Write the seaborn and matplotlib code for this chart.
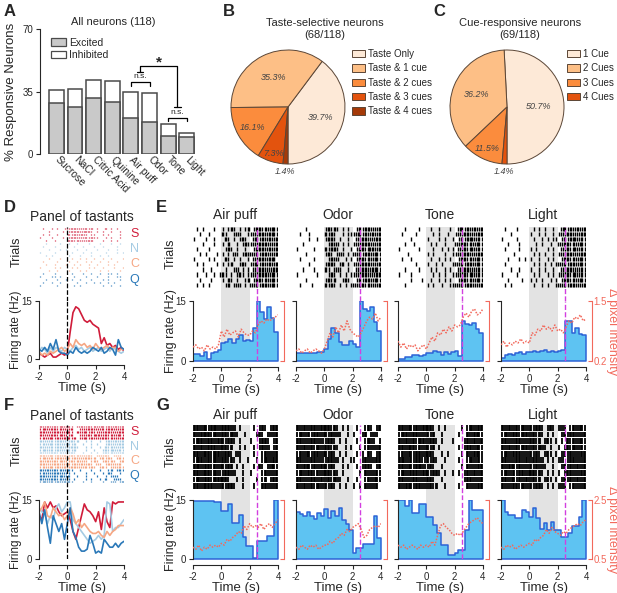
import numpy as np
import pandas as pd
import matplotlib
matplotlib.use('Agg')
import matplotlib.pyplot as plt
import seaborn as sns
from matplotlib.patches import Patch

# ---------------- Panel A: % responsive neurons ----------------
stimuli = ['Sucrose', 'NaCl', 'Citric Acid', 'Quinine', 'Air puff', 'Odor', 'Tone', 'Light']
pct_total = [35.6, 36.3, 41.5, 40.7, 35.0, 34.1, 16.9, 12.0]
pct_excited = [28.8, 26.6, 31.6, 29.0, 20.3, 17.8, 10.2, 9.7]

# ---------------- Panels B, C: pies ----------------
taste_sel_labels = ['Taste Only', 'Taste & 1 cue', 'Taste & 2 cues', 'Taste & 3 cues', 'Taste & 4 cues']
taste_sel_pct = [39.7, 35.3, 16.1, 7.3, 1.4]
cue_resp_labels = ['1 Cue', '2 Cues', '3 Cues', '4 Cues']
cue_resp_pct = [50.7, 36.2, 11.5, 1.4]

# ---------------- Panels D, F: tastant PSTHs (t = -2..4, step 0.2) ----------------
tastants = ['S', 'N', 'C', 'Q']
D_rate_S = [1.5, 1, 0.5, 1, 1.5, 0.5, 0.5, 1, 1.5, 1, 1.5, 7, 12, 13.5, 13, 11.5, 10, 9.5, 10, 9, 8.5, 8, 4, 5.5, 3.5, 4, 3, 3.5, 2.5, 3, 2]
D_rate_N = [2, 3, 2.5, 1.5, 3, 2, 3, 2.5, 2, 3, 2.5, 2, 3, 3.5, 2.5, 3, 2, 2.5, 3, 2, 2.5, 3, 2, 2.5, 3, 2, 3, 2.5, 2, 1.5, 2]
D_rate_C = [2, 1, 1.5, 1, 2, 1.5, 2, 2.5, 3, 2, 2.5, 4, 3, 5, 4, 3.5, 4, 3, 3.5, 2.5, 4, 3, 2.5, 3, 3.5, 2.5, 3, 3, 2, 2.5, 2.5]
D_rate_Q = [2.5, 2, 3, 2, 4, 2.5, 5, 2, 1.5, 1.5, 1, 2, 1.5, 3, 2, 1.5, 2, 1.5, 2, 3, 2.5, 2, 3, 1.5, 2, 3, 2.5, 1, 5, 3, 2.5]
F_rate_S = [11, 10, 14.5, 13, 14.5, 13, 13.5, 12, 11, 11.5, 12, 10, 7, 5, 8, 11, 14, 12.5, 12, 11, 9.5, 12, 7.5, 13, 9.5, 8, 14.5, 14, 14.5, 14.5, 14.5]
F_rate_N = [13, 12, 11.5, 9, 11, 10, 13, 14, 12, 13, 14.5, 14.5, 10, 9, 8, 7, 6, 5, 4, 4.5, 5, 6, 5, 6, 14.5, 14, 7, 8, 8, 9, 10]
F_rate_C = [12, 13, 14.5, 11, 10.5, 13, 12, 11, 11.5, 10, 11, 13, 11.5, 9, 10, 8, 9, 8, 7, 6.5, 6.5, 7, 6, 5.5, 7, 6, 7, 7.5, 8.5, 8.5, 8.5]
F_rate_Q = [12, 9, 12.5, 8, 4, 11, 9, 7, 9, 5, 9, 13, 7, 5.5, 3, 2, 2, 2.5, 6, 4, 1.5, 2, 1.5, 5, 4, 3, 3, 4, 3, 4, 4.5]

# raster rows: 30 bins of 0.2 s from -2 to 4; '|' one spike, ':' two spikes
D_raster_S = [".|..|.|.. :|::|:|:|: .|..:.|.|.", "...|....|. |:::|:::|. |.|..|..|.", ".|.|..|... :|:|::|.|| ..|.|...|.",
              "|...|...|. |::|:|:|:| |..|.|..|.", "..|..|.... ::|:|:|::. ..|..|.|.."]
D_raster_N = ["..|....|.. |..|...|.. .|...|..|.", ".|...|.... ..|..|...| ..|....|..", "...|...|.| ...|..|... |...|..|..",
              "|....|.... .|...|..|. ...|...|.|", "..|.|..... |...|...|. .|..|....."]
D_raster_C = ["...|...|.. .|..|.|..| ..|..|...|", ".|....|... |..|..|.|. .|..|..|..", "..|..|...| ..|.|..|.. |...|.|...",
              "|....|.|.. .|.|...|.| ..|...|..|", "...|..|... |...|.|... .|..|...|."]
D_raster_Q = [".|...|.... .|...|..|. .|..||.|..", "|...||.|.. ..|...|... |...|..||.", "..|...|..| .|..|...|. ..|.|...|.",
              ".|..|..|.. ...|..|..| .|..|.|...", "|.....|... ..|.|..... ..|..|..|."]
F_raster_S = [":|::|:|::| :|.|::|:|: |::|:|::|:", "|::|::|:|: |:..|:|::| :|:|::|:|:", "::|:|::|:| :|.:|::|:| |:|::|:|::",
              ":|:|::|::| |:..|:|:|: ::|:|:|::|", "|:|::|:|:: :|:.|::|:| :|::|:|:|:"]
F_raster_N = [":|:|:|::|: |:|:..|.|. .|.|:|::|:", "|:|::|:|:| :|:..|..|. |..|:|:|::", ":|:|:|::|: |::|..|.|. .|.:|:|:|:",
              "|::|:|:|:| :|:...|..| ..|:|::|:|", ":|:|::|:|: |:|..|..|. |.|:|:|:|:"]
F_raster_C = ["::|::|:|:: |:|:|:|:|. |:|:|.|:|.", "|::|:|::|: :|:|:|::|: .|:|:|.|:|", ":|::|:|::| |:|:|:|.|: |.|:|:|.|:",
              "::|:|::|:| :|:|::|:|. :|.|:|:|:.", "|:|::|:|:: |::|:|:|:| .|:|.|:|:|"]
F_raster_Q = [":|::|:|:|: :|..|...|. .|..|:.|:|", "|:|:|::|:| |.|...|..| ..|.:|..|.", "::|:|:|::| :..|..|... |..|.|:|..",
              ":|:|::|:|: |.|...|.|. .|.:..|:|.", "|::|:|:|:: :|...|..|. ..|..|:.|:"]

# ---------------- Panels E, G: cue responses ----------------
cues = ['Air puff', 'Odor', 'Tone', 'Light']
# firing rate, 24 bins of 0.25 s from -2 to 4
E_rate_air = [1.8, 1.8, 1.3, 2.3, 0.6, 2.0, 2.3, 2.7, 4.4, 4.8, 5.5, 4.6, 5.6, 6.5, 5.0, 5.3, 5.0, 8.2, 15, 12.3, 10.5, 13.5, 10.8, 7.3]
E_rate_odor = [2.1, 2.1, 2.1, 2.1, 2.1, 2.1, 2.3, 2.3, 3.0, 5.5, 8.2, 7.0, 4.7, 4.0, 4.0, 5.0, 4.2, 3.5, 15, 13, 12.5, 13.5, 9.7, 7.5]
E_rate_tone = [0.6, 0.6, 1.0, 1.0, 1.6, 1.5, 1.3, 1.6, 2.0, 2.1, 2.6, 2.3, 1.5, 2.3, 1.8, 2.3, 2.5, 1.3, 10, 9.2, 9.0, 9.5, 8.0, 7.0]
E_rate_light = [0.7, 1.5, 1.8, 1.6, 2.0, 2.2, 1.8, 2.2, 2.3, 2.6, 2.2, 2.5, 2.7, 2.3, 2.5, 2.2, 2.4, 2.8, 10, 10, 7, 8.3, 6.8, 6.5]
G_rate_air = [14.8, 14.8, 14.8, 14.8, 14.8, 14.8, 14.5, 14.5, 12.2, 12.2, 13.9, 9.1, 9.1, 11.2, 5.6, 3.2, 3.2, 0.3, 4.5, 4.5, 4.5, 5.9, 5.9, 15]
G_rate_odor = [12.0, 11.5, 11.0, 12.0, 11.0, 10.2, 11.8, 11.0, 12.8, 10.5, 12.2, 11.0, 13.0, 10.0, 9.0, 7.5, 1.5, 2.8, 2.8, 3.8, 3.8, 3.8, 10.9, 5.3]
G_rate_tone = [15, 15, 13.5, 15, 11.6, 11.6, 13.9, 13.9, 10.8, 10.8, 8.7, 6.6, 3.6, 3.6, 1.1, 1.1, 1.5, 2.4, 2.4, 7.4, 15, 12.4, 12.4, 12.4]
G_rate_light = [15, 12.0, 11.2, 11.2, 10.3, 10.3, 12.5, 12.0, 10.8, 12.9, 10.3, 7.6, 9.1, 7.4, 9.5, 7.4, 7.4, 5.7, 5.7, 6.6, 8.4, 8.4, 10.8, 15]

# delta pixel intensity (t = -2..4, step 0.2)
E_pix_air = [0.50, 0.55, 0.46, 0.50, 0.42, 0.55, 0.46, 0.50, 0.46, 0.55, 0.85, 0.72, 0.89, 0.76, 0.81, 0.85, 0.72, 0.89, 0.81, 0.76, 0.76, 0.85, 0.81, 0.98, 1.07, 1.02, 1.11, 1.07, 1.11, 1.15, 1.20]
E_pix_odor = [0.42, 0.46, 0.37, 0.42, 0.46, 0.37, 0.42, 0.46, 0.42, 0.37, 0.46, 0.63, 0.81, 0.72, 0.94, 0.81, 0.98, 0.85, 1.07, 0.89, 0.81, 0.76, 0.72, 0.81, 0.94, 1.07, 1.15, 1.11, 1.24, 1.07, 1.15]
E_pix_tone = [0.63, 0.50, 0.59, 0.46, 0.55, 0.50, 0.55, 0.42, 0.50, 0.55, 0.46, 0.59, 0.72, 0.63, 0.81, 0.76, 0.89, 0.81, 0.94, 0.85, 0.98, 0.94, 0.98, 1.15, 1.24, 1.15, 1.28, 1.33, 1.20, 1.24, 1.33]
E_pix_light = [0.55, 0.63, 0.50, 0.59, 0.55, 0.63, 0.59, 0.68, 0.59, 0.63, 0.59, 0.81, 0.76, 0.89, 0.85, 0.98, 0.89, 0.94, 0.85, 0.98, 0.85, 0.89, 0.81, 0.94, 1.07, 1.02, 1.15, 1.11, 1.20, 1.07, 1.11]
G_pix_air = [0.90, 0.83, 0.97, 0.77, 0.90, 0.83, 0.97, 0.90, 0.97, 0.90, 1.03, 0.97, 1.17, 1.10, 1.23, 1.30, 1.43, 1.37, 1.63, 1.50, 1.70, 1.57, 1.63, 1.57, 1.70, 1.50, 1.63, 1.70, 1.57, 1.70, 1.83]
G_pix_odor = [0.90, 0.83, 0.97, 0.90, 0.83, 0.97, 0.90, 0.97, 0.83, 0.90, 0.97, 0.97, 1.10, 1.03, 1.17, 1.23, 1.37, 1.30, 1.50, 1.43, 1.57, 1.63, 1.70, 1.50, 1.23, 1.30, 1.50, 1.57, 1.63, 1.57, 1.70]
G_pix_tone = [0.97, 0.90, 0.97, 0.83, 0.90, 0.97, 0.90, 0.83, 0.97, 0.90, 0.97, 0.90, 1.10, 0.97, 1.30, 1.63, 1.70, 1.57, 1.50, 1.37, 1.30, 1.37, 1.30, 1.43, 1.57, 1.70, 1.77, 1.83, 1.90, 1.77, 1.70]
G_pix_light = [0.90, 0.83, 0.97, 0.90, 0.97, 0.83, 0.90, 0.97, 0.90, 0.97, 1.03, 0.97, 1.17, 1.10, 1.23, 1.30, 1.50, 1.37, 1.57, 1.43, 1.37, 1.30, 1.43, 1.37, 1.50, 1.57, 1.63, 1.70, 1.63, 1.77, 1.83]

E_raster_air = [".|.|...|.. |.|:|.|.|: .|::|:|::|", "..|..|.... :|..|:|..| |:|::|:::|", "|...|..|.. .:|.|.|:|. .::|:|::|:",
                "...|...|.. |.:..|.|:| |:|:::|:|:", ".|...|.... .|:|.|..|. .|:::|::|:", "..|.|...|. |.|.:|.|:| :|:|::|:|:",
                "|....|.|.. .:|.|.|..| .:|::|:::.", ".|.|....|. |.|:..|:|. |::|:|::|:", "...|..|... .|..|:.|.| .:|::|:|::",
                ".|..|..|.| :|.|.|:|.| |:|:::|::|", "..|...|... |.:|.|..|: .|::|:|::|", ".|.|.|.... .|:.|:|.|. :|:|::|::|"]
E_raster_odor = ["...|...... |:|:|.|.|. .|:|::|:|:", ".|..|..... :|:|..|.|| |::|:|::|:", "....|..|.. |::|.|..|. .:|::|:|::",
                 "..|....... .|:|:.|.|. |:|:::|:|:", "|.....|... :|::|.|..| .|::|:::|:", "...|...... |:|.|:|.|. :|:|::|::|",
                 ".|....|... .|:|:..|.| .|::|:|::|", "....|..... |::|.|:.|. |:|:::|:|:", "..|...|... :|.|:|..|. .:|::|:::|",
                 "|......|.. .|:|.|.|.| |:|::|:|::", "...|...... |:|:..|:|. .|:|::|::|", ".|...|.... :|:|.|.|.| :|::|:|:|:"]
E_raster_tone = ["..|....|.. .|..|...|. .::|:|::|:", ".|....|... ..|.|..|.. |:|::|:|::", "....|..... |...|.|..| .|:|:::|:|",
                 "..|..|.... .|.|..|... :|::|:|::|", "|......|.. ..|..|.|.| .:|:|::|:|", "...|...... |.|...|..| |:|::|:|::",
                 ".|..|..... .|..|.|.|. .|::|:|::|", "......|... |..|.|...| :|:|::|::|", "..|....|.. .|.|..|.|. .:|::|:|:|",
                 "|...|..... ..|.|.|..| |:|:|::|:|", "....|...|. .|..|.|.|. .|::|:|::|", "..|....... |.|..|..|| :|:|::|:|:"]
E_raster_light = [".|...|.... .|.|.|..|. .::|:|::|:", "...|...... |..|.|..|. |:|::|:|::", "|....|.... .|..|.|.|| .|:|:::|:|",
                  "..|...|... ..|.|..|.. :|::|:|::|", ".|....|... |.|...|.|. .:|:|::|:|", "....|..... .|.|.|..|. |:|::|:|::",
                  "..|...|.|. |..|..|.|. .|::|:|::|", ".|........ .|.|.|.|.| :|:|::|::|", "...|..|... |..|.|..|. .:|::|:|:|",
                  "|....|.... .|.|..|.|. |:|:|::|:|", "..|....|.. |.|.|..|.| .|::|:|::|", ".|.|...... .|..|.|..| :|:|::|:|:"]
G_raster_air = ["::|::|:::| :::|:.|... .|.|:|.|::", ":|::::|::| ::|::|..|. ..|:|.|:|:", "|:::|::|:: :|::|.|... |..|::|.|:",
                ":|::|:::|: ::|:..|.|. .|.|:|:.|:", "::|:::|::: |::|.:|... .|..|:|:|:", "|:::|:|::| ::|:|.|..| ..|.|::|::",
                ":::|::|:|: :|::.|.|.. .|.:|.|::|", "::|:::|::| |::|:..|.. |...|:|:|:", "|::|::|::: ::|..|.|.. ..|.|:.|::",
                "::|::::|:| :|::|..|.. .|..::|:|:"]
G_raster_odor = [":|::|::|:: ::|:|.|.|. .|..|:|.|:", "|::|:|::|: :|:|:|..|. |..|:.|:|.", "::|:|::|:| |::|.|.|.. .|..|::|.|",
                 ":|::|:|::| ::|:|..|.| ..|.|:|:|:", "|:|::|::|: :|:|.|.|.. .|.|.:|.|:", "::|:|::|:| |::|:.|..| |..|:|:|::",
                 ":|:::|:|:: :|:|..|.|. .|.|::|.|:", "|::|::|:|: ::|:|.|... ..|.:|:|:|", "::|:|::|:: |:|::|..|. .|..|:|::|",
                 ":|::|:|::| :|:|.|.|.. |.|.:|:|:."]
G_raster_tone = ["::|::|:|:: ::|.|.|... ..|.|::|::", "|:::|::|:| :|:..|.... .|..:|:::|", ":|::|:|::: |::|.|...| ...|:|::|:",
                 "::|:::|:|: :|:.|..... .|.|::|::|", "|:|::|::|: ::|..|.|.. ..|.:|:::|", ":::|:|::|| :|:|..|... .|..|::|:|",
                 "::|::|:::| |:|..|.... ..|.:|:|::", "|::|:::|:: :|::|.|..| .|.|:|::|:", "::|:|::|:| ::|..|.... ...|::|:|:",
                 ":|:::|::|: |:|:..|... .|..:|:|::"]
G_raster_light = [":|::|:|::| :|::|.|:|. |:|.|:|::|", "|::|::|::: |:|:|.|.|. .|:|::|:|:", "::|:|::|:| ::|:.|:|.| .|.:|:|::|",
                  ":|::|:|::: |:|::|.|.. |.|:|::|:|", "|::|:::|:| :|:|.|:|.| .|:|:|:|::", "::|:|::|:: |::|:.|.|. |:.|::|:|:",
                  ":|:::|:|:| :|:|:|..|. .|:|:|::|:", "|::|:|::|: ::|:|.|.|. |.|::|:|::", "::|::|:|:: |:|:.|:|.| .|:|:|::|:",
                  ":|:|::|::| :|::|.|.|. |:|.|:|:|:"]

bin_mid = np.arange(-2, 4, 0.25) + 0.125
t_trace = np.round(np.arange(-2, 4.001, 0.2), 2)

# ---------------- style ----------------
sns.set_style('ticks')
plt.rcParams['font.family'] = ['Liberation Sans', 'DejaVu Sans']
plt.rcParams.update({
    'axes.unicode_minus': False, 'axes.linewidth': 0.8,
    'xtick.labelsize': 7, 'ytick.labelsize': 7, 'axes.labelsize': 9,
    'xtick.major.size': 3, 'ytick.major.size': 3,
    'xtick.major.width': 0.8, 'ytick.major.width': 0.8,
    'xtick.major.pad': 2, 'ytick.major.pad': 2,
})

TASTE_COLORS = ['#d01c3a', '#a5cbe3', '#f6a784', '#2a78b8']
PIE_COLORS = ['#fde9d7', '#fdbf86', '#fb8c3d', '#e3530e', '#a53a08']
PIE_EDGE = '#5b4636'
BLUE_FILL = '#5ec3f2'
BLUE_EDGE = '#2d63d6'
PIX_RED = '#f2695c'
MAGENTA = '#d23fe0'
SHADE = '#e3e3e3'

W, H = 617, 593
fig = plt.figure(figsize=(W / 100, H / 100), dpi=100)


def px_axes(x0, y0, x1, y1):
    return fig.add_axes([x0 / W, 1 - y1 / H, (x1 - x0) / W, (y1 - y0) / H])


def ftext(x, y, s, **kw):
    fig.text(x / W, 1 - y / H, s, **kw)


def spike_times(row):
    row = row.replace(' ', '')
    out = []
    for i, ch in enumerate(row):
        t0 = -2 + 0.2 * i
        if ch == '|':
            out.append(t0 + 0.1)
        elif ch == ':':
            out += [t0 + 0.05, t0 + 0.15]
    return out


def draw_raster(ax, groups, colors, n_rows, length, lw):
    pos, offs, cols = [], [], []
    k = 0
    for trials, c in zip(groups, colors):
        for tr in trials:
            pos.append(spike_times(tr))
            offs.append(k + 0.5)
            cols.append(c)
            k += 1
    ax.eventplot(pos, lineoffsets=offs, linelengths=length, colors=cols, linewidths=lw, zorder=2)
    ax.set_xlim(-2, 4)
    ax.set_ylim(n_rows, 0)
    ax.set_xticks([])
    ax.set_yticks([])
    for s in ax.spines.values():
        s.set_visible(False)
    ax.patch.set_alpha(0)


def style_rate_axis(ax, first, lab_x):
    ax.set_xlim(-2, 4)
    ax.set_ylim(0, 15)
    ax.set_xticks([-2, 0, 2, 4])
    ax.set_yticks([0, 15])
    sns.despine(ax=ax)
    ax.spines['bottom'].set_position(('outward', 4))
    ax.set_xlabel('Time (s)', fontsize=9.5, labelpad=0)
    if first:
        ax.set_ylabel('Firing rate (Hz)')
        ax.yaxis.set_label_coords(lab_x, 0.5)
    else:
        ax.set_ylabel('')
        ax.set_yticklabels([])


# ================= Panel A =================
axA = px_axes(40, 29, 197, 154)
dfA = pd.DataFrame({'stim': stimuli, 'total': pct_total, 'excited': pct_excited})
sns.barplot(data=dfA, x='stim', y='total', color='white', edgecolor='#4a4a4a', linewidth=1.1,
            width=0.8, saturation=1, ax=axA)
sns.barplot(data=dfA, x='stim', y='excited', color='#c9c9c9', edgecolor='#4a4a4a', linewidth=1.1,
            width=0.8, saturation=1, ax=axA)
axA.set_xlim(-0.88, 7.55)
axA.set_ylim(0, 70)
axA.set_yticks([0, 35, 70])
axA.set_xlabel('')
axA.set_ylabel('% Responsive Neurons', fontsize=9.5, labelpad=4)
sns.despine(ax=axA, bottom=True)
axA.tick_params(axis='x', length=0, pad=3)
axA.set_xticks(range(len(stimuli)))
axA.set_xticklabels(stimuli, rotation=-45, ha='left', va='center', rotation_mode='anchor', fontsize=7.5)
axA.legend(handles=[Patch(facecolor='#c9c9c9', edgecolor='#4a4a4a', lw=0.9),
                    Patch(facecolor='white', edgecolor='#4a4a4a', lw=0.9)],
           labels=['Excited', 'Inhibited'], loc='upper left', bbox_to_anchor=(0.07, 0.93),
           frameon=False, fontsize=7.5, handlelength=1.4, handleheight=0.7, handletextpad=0.3,
           labelspacing=0.2, borderpad=0, borderaxespad=0)
kw = dict(color='black', lw=0.9, clip_on=False)
axA.plot([4, 4, 5, 5], [38.3, 40.1, 40.1, 38.3], **kw)
axA.text(4.5, 41.2, 'n.s.', ha='center', va='bottom', fontsize=6)
axA.plot([6, 6, 7, 7], [18.3, 20.1, 20.1, 18.3], **kw)
axA.text(6.5, 21.2, 'n.s.', ha='center', va='bottom', fontsize=6)
axA.plot([4.5, 4.5, 6.5, 6.5], [46.2, 49.2, 49.2, 26.2], **kw)
axA.plot([4.35, 4.65], [46.2, 46.2], **kw)
axA.plot([6.3, 6.7], [26.2, 26.2], **kw)
axA.text(5.5, 51.5, '*', ha='center', va='center', fontsize=11, fontweight='bold')
ftext(113, 22, 'All neurons (118)', ha='center', va='center', fontsize=8)


# ================= Panels B, C =================
def draw_pie(ax, values, colors, dists):
    wedges, _ = ax.pie(values, colors=colors, startangle=-90, counterclock=True,
                       wedgeprops=dict(edgecolor=PIE_EDGE, linewidth=0.7))
    ax.set_xlim(-1.0, 1.0)
    ax.set_ylim(-1.0, 1.0)
    for w, v, d in zip(wedges, values, dists):
        ang = np.deg2rad((w.theta1 + w.theta2) / 2)
        ax.text(d * np.cos(ang), d * np.sin(ang), f'{v}%', ha='center', va='center',
                fontsize=6.5, style='italic', color='#444444')


axB = px_axes(231, 50, 345, 164)
draw_pie(axB, taste_sel_pct, PIE_COLORS, [0.6, 0.58, 0.72, 0.85, 1.13])
ftext(325, 29, 'Taste-selective neurons\n(68/118)', ha='center', va='center', fontsize=8, linespacing=1.15)
fig.legend(handles=[Patch(facecolor=c, edgecolor=PIE_EDGE, lw=0.7) for c in PIE_COLORS],
           labels=taste_sel_labels, loc='upper left', bbox_to_anchor=(352 / W, 1 - 49 / H),
           frameon=False, fontsize=7, handlelength=1.3, handleheight=0.8, handletextpad=0.35,
           labelspacing=0.45, borderpad=0, borderaxespad=0)

axC = px_axes(450, 50, 564, 164)
draw_pie(axC, cue_resp_pct, PIE_COLORS[:4], [0.55, 0.58, 0.8, 1.13])
ftext(520, 29, 'Cue-responsive neurons\n(69/118)', ha='center', va='center', fontsize=8, linespacing=1.15)
fig.legend(handles=[Patch(facecolor=c, edgecolor=PIE_EDGE, lw=0.7) for c in PIE_COLORS[:4]],
           labels=cue_resp_labels, loc='upper left', bbox_to_anchor=(567 / W, 1 - 49 / H),
           frameon=False, fontsize=7, handlelength=1.3, handleheight=0.8, handletextpad=0.35,
           labelspacing=0.45, borderpad=0, borderaxespad=0)


# ================= Panels D, F =================
def tastant_panel(y_top, y_mid, y_bot, rasters, rates, n_rows, title, title_y):
    axr = px_axes(39, y_top, 124, y_mid)
    draw_raster(axr, rasters, TASTE_COLORS, n_rows, 0.6, 0.9)
    axr.axvline(0, color='black', ls='--', lw=0.9, zorder=3)
    axr.set_ylabel('Trials')
    axr.yaxis.set_label_coords(-0.19, 0.66)
    for i, (name, c) in enumerate(zip(tastants, TASTE_COLORS)):
        axr.text(4.75, 5 * i + 2.5, name, color=c, fontsize=9, ha='center', va='center', clip_on=False)
    axl = px_axes(39, y_mid, 124, y_bot)
    for vals, c in zip(rates, TASTE_COLORS):
        sns.lineplot(x=t_trace, y=vals, color=c, lw=1.2, ax=axl)
    axl.axvline(0, color='black', ls='--', lw=0.9, zorder=3)
    style_rate_axis(axl, True, -0.2)
    axl.yaxis.label.set_fontsize(8.5)
    ftext(82, title_y, title, ha='center', va='center', fontsize=10)


tastant_panel(227, 301, 359, [D_raster_S, D_raster_N, D_raster_C, D_raster_Q],
              [D_rate_S, D_rate_N, D_rate_C, D_rate_Q], 74 / 3, 'Panel of tastants', 217)
tastant_panel(425, 500, 559, [F_raster_S, F_raster_N, F_raster_C, F_raster_Q],
              [F_rate_S, F_rate_N, F_rate_C, F_rate_Q], 75 / 2.9, 'Panel of tastants', 416)


# ================= Panels E, G =================
def cue_panel(y_top, y_mid, y_bot, rasters, rates, pix, n_rows, length, lw, pix_lim, title_y):
    for k, x0 in enumerate([193, 296, 398, 501]):
        x1 = x0 + 85
        axr = px_axes(x0, y_top, x1, y_mid)
        axr.axvspan(0, 2, color=SHADE, lw=0, zorder=0)
        draw_raster(axr, [rasters[k]], ['black'], n_rows, length, lw)
        axr.axvline(2.5, color=MAGENTA, ls='--', lw=1, zorder=3)
        if k == 0:
            axr.set_ylabel('Trials')
            axr.yaxis.set_label_coords(-0.19, 0.64)
        axh = px_axes(x0, y_mid, x1, y_bot)
        axh.axvspan(0, 2, color=SHADE, lw=0, zorder=0)
        hist_df = pd.DataFrame({'t': bin_mid, 'rate': rates[k]})
        sns.histplot(data=hist_df, x='t', weights='rate', binwidth=0.25, binrange=(-2, 4),
                     element='step', fill=True, color=BLUE_FILL, edgecolor=BLUE_EDGE,
                     linewidth=1.1, alpha=1, ax=axh)
        axh.axvline(2.5, color=MAGENTA, ls='--', lw=1, zorder=4)
        style_rate_axis(axh, k == 0, -0.19)
        ax2 = axh.twinx()
        sns.lineplot(x=t_trace, y=pix[k], color=PIX_RED, ls=(0, (1, 1)), lw=1.1, ax=ax2)
        ax2.set_ylim(*pix_lim)
        ax2.set_yticks(list(pix_lim))
        for side in ['left', 'top', 'bottom']:
            ax2.spines[side].set_visible(False)
        ax2.spines['right'].set_visible(True)
        ax2.spines['right'].set_color(PIX_RED)
        ax2.spines['right'].set_position(('outward', 4))
        ax2.tick_params(axis='y', direction='in', colors=PIX_RED, length=3, pad=1.5)
        if k == 3:
            ax2.set_ylabel('\u0394 pixel intensity', color=PIX_RED, fontsize=9, rotation=270, va='bottom')
            ax2.yaxis.set_label_coords(1.235, 0.5)
        else:
            ax2.set_ylabel('')
            ax2.set_yticklabels([])
        ftext(x0 + 42, title_y, cues[k], ha='center', va='center', fontsize=10)


cue_panel(227, 301, 361, [E_raster_air, E_raster_odor, E_raster_tone, E_raster_light],
          [E_rate_air, E_rate_odor, E_rate_tone, E_rate_light],
          [E_pix_air, E_pix_odor, E_pix_tone, E_pix_light], 74 / 5, 0.8, 1.0, (0.2, 1.5), 215)
cue_panel(425, 500, 559, [G_raster_air, G_raster_odor, G_raster_tone, G_raster_light],
          [G_rate_air, G_rate_odor, G_rate_tone, G_rate_light],
          [G_pix_air, G_pix_odor, G_pix_tone, G_pix_light], 75 / 6.4, 0.85, 1.3, (0.5, 2.5), 415)

# panel letters
for letter, x, y in [('A', 4, 11), ('B', 223, 11), ('C', 433, 11), ('D', 4, 207),
                     ('E', 156, 207), ('F', 4, 405), ('G', 156, 405)]:
    ftext(x, y, letter, ha='left', va='center', fontsize=12, fontweight='bold')

fig.savefig('out.png', dpi=100)
